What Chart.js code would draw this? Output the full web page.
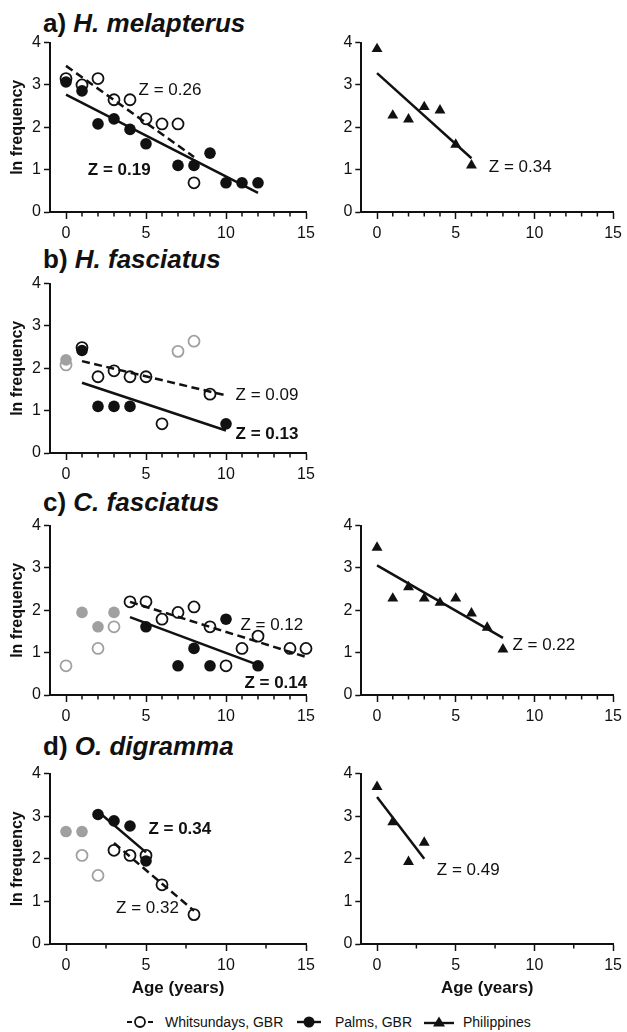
<!DOCTYPE html>
<html>
<head>
<meta charset="utf-8">
<script src="https://cdn.jsdelivr.net/npm/chart.js@4.4.1/dist/chart.umd.min.js"></script>
<style>
  body { margin: 0; background: #fff; font-family: "Liberation Sans", Arial, sans-serif; }
  #page { position: relative; width: 627px; height: 1032px; overflow: hidden; }
  .box { position: absolute; }
  .ttl { position: absolute; left: 43px; font-size: 26px; font-weight: bold; line-height: 26px; white-space: nowrap; color: #111; }
  .leg { position: absolute; top: 1012px; font-size: 14px; line-height: 20px; color: #111; white-space: nowrap; }
  .legsym { position: absolute; top: 1015px; }
</style>
</head>
<body>
<div id="page">
  <div class="ttl" style="top:10px">a) <i>H. melapterus</i></div>
  <div class="ttl" style="top:246px">b) <i>H. fasciatus</i></div>
  <div class="ttl" style="top:489px">c) <i>C. fasciatus</i></div>
  <div class="ttl" style="top:733px">d) <i>O. digramma</i></div>

  <div class="box" id="wa"><canvas id="cA"></canvas></div>
  <div class="box" id="wa2"><canvas id="cA2"></canvas></div>
  <div class="box" id="wb"><canvas id="cB"></canvas></div>
  <div class="box" id="wc"><canvas id="cC"></canvas></div>
  <div class="box" id="wc2"><canvas id="cC2"></canvas></div>
  <div class="box" id="wd"><canvas id="cD"></canvas></div>
  <div class="box" id="wd2"><canvas id="cD2"></canvas></div>

  <svg class="legsym" style="left:126px" width="28" height="14">
    <line x1="1" y1="7" x2="6" y2="7" stroke="#111" stroke-width="2"/>
    <line x1="22" y1="7" x2="27" y2="7" stroke="#111" stroke-width="2"/>
    <circle cx="14" cy="7" r="5" fill="#fff" stroke="#111" stroke-width="1.8"/>
  </svg>
  <div class="leg" style="left:165px">Whitsundays, GBR</div>
  <svg class="legsym" style="left:297px" width="24" height="14">
    <line x1="0" y1="7" x2="24" y2="7" stroke="#111" stroke-width="2.4"/>
    <circle cx="12" cy="7" r="5.5" fill="#111"/>
  </svg>
  <div class="leg" style="left:335px">Palms, GBR</div>
  <svg class="legsym" style="left:424px" width="30" height="14">
    <line x1="0" y1="8" x2="30" y2="8" stroke="#111" stroke-width="2.4"/>
    <polygon points="15,1.5 21,11.5 9,11.5" fill="#111"/>
  </svg>
  <div class="leg" style="left:463px">Philippines</div>
</div>

<script>
// age classes (years)
const ages = [0, 1, 2, 3, 4, 5, 6, 7, 8, 9, 10, 11, 12, 13, 14, 15];

// a) H. melapterus
const aWhit  = [3.15, 3.00, 3.15, 2.65, 2.65, 2.20, 2.08, 2.08, 0.69, null, null, null, null, null, null, null];
const aPalms = [3.07, 2.86, 2.08, 2.20, 1.95, 1.61, null, 1.10, 1.10, 1.39, 0.69, 0.69, 0.69, null, null, null];
const aPhil  = [3.85, 2.28, 2.19, 2.48, 2.40, 1.59, 1.10, null, null, null, null, null, null, null, null, null];
const aWhitFit  = [[0, 3.45], [8, 1.30]];
const aPalmsFit = [[0, 2.77], [12, 0.45]];
const aPhilFit  = [[0, 3.28], [6, 1.27]];
const aZ = ['Z = 0.26', 'Z = 0.19', 'Z = 0.34'];

// b) H. fasciatus
const bWhit     = [null, 2.49, 1.80, 1.94, 1.80, 1.80, 0.69, null, null, 1.39, null, null, null, null, null, null];
const bWhitOut  = [2.08, null, null, null, null, null, null, 2.40, 2.64, null, null, null, null, null, null, null];
const bPalms    = [null, 2.42, 1.10, 1.10, 1.10, null, null, null, null, null, 0.69, null, null, null, null, null];
const bPalmsOut = [2.20, null, null, null, null, null, null, null, null, null, null, null, null, null, null, null];
const bWhitFit  = [[1, 2.17], [10, 1.36]];
const bPalmsFit = [[1, 1.66], [10, 0.53]];
const bZ = ['Z = 0.09', 'Z = 0.13'];

// c) C. fasciatus
const cWhit     = [null, null, null, null, 2.20, 2.20, 1.79, 1.95, 2.08, 1.61, 0.69, 1.10, 1.39, null, 1.10, 1.10];
const cWhitOut  = [0.69, null, 1.10, 1.61, null, null, null, null, null, null, null, null, null, null, null, null];
const cPalms    = [null, null, null, null, null, 1.61, null, 0.69, 1.10, 0.69, 1.79, null, 0.69, null, null, null];
const cPalmsOut = [null, 1.95, 1.61, 1.95, null, null, null, null, null, null, null, null, null, null, null, null];
const cPhil     = [3.48, 2.28, 2.55, 2.28, 2.18, 2.28, 1.93, 1.59, 1.08, null, null, null, null, null, null, null];
const cWhitFit  = [[4, 2.20], [15, 0.90]];
const cPalmsFit = [[4, 1.84], [12, 0.71]];
const cPhilFit  = [[0, 3.06], [8, 1.35]];
const cZ = ['Z = 0.12', 'Z = 0.14', 'Z = 0.22'];

// d) O. digramma
const dWhit     = [null, null, null, 2.20, 2.08, 2.08, 1.39, null, 0.69, null, null, null, null, null, null, null];
const dWhitOut  = [null, 2.08, 1.61, null, null, null, null, null, null, null, null, null, null, null, null, null];
const dPalms    = [null, null, 3.04, 2.89, 2.77, 1.95, null, null, null, null, null, null, null, null, null, null];
const dPalmsOut = [2.64, 2.64, null, null, null, null, null, null, null, null, null, null, null, null, null, null];
const dPhil     = [3.69, 2.86, 1.93, 2.38, null, null, null, null, null, null, null, null, null, null, null, null];
const dWhitFit  = [[3, 2.37], [8, 0.78]];
const dPalmsFit = [[2, 3.11], [5, 2.15]];
const dPhilFit  = [[0, 3.45], [3, 2.00]];
const dZ = ['Z = 0.34', 'Z = 0.32', 'Z = 0.49'];

const xTicks = [0, 5, 10, 15];
const yTicks = [0, 1, 2, 3, 4];

const BLACK = '#111111';
const GREY = '#a0a0a0';
const FONT = "'Liberation Sans', Arial, sans-serif";
Chart.defaults.font.family = FONT;
Chart.defaults.color = BLACK;

function pts(vals) {
  return ages.map((a, i) => ({ x: a, y: vals[i] })).filter(p => p.y !== null);
}
function fitPts(fit) {
  return fit.map(p => ({ x: p[0], y: p[1] }));
}

// dataset builders
function openPts(vals, col) {
  return { data: pts(vals), pointStyle: 'circle', pointRadius: 5.5, pointBackgroundColor: '#fff',
    pointBorderColor: col, pointBorderWidth: 1.8, showLine: false, clip: false };
}
function fillPts(vals, col) {
  return { data: pts(vals), pointStyle: 'circle', pointRadius: 5.8, pointBackgroundColor: col,
    pointBorderColor: col, pointBorderWidth: 0, showLine: false, clip: false };
}
function triPts(vals) {
  return { data: pts(vals), pointStyle: 'triangle', pointRadius: 6.3, pointBackgroundColor: BLACK,
    pointBorderColor: BLACK, pointBorderWidth: 0, showLine: false, clip: false };
}
function fitLine(fit, dashed) {
  return { data: fitPts(fit), showLine: true, borderColor: BLACK, borderWidth: 2.5,
    borderDash: dashed ? [8, 4.5] : [], pointRadius: 0, clip: false };
}

// text labels at data coordinates
const zPlugin = {
  id: 'zLabels',
  afterDatasetsDraw(chart, args, opts) {
    const { ctx } = chart;
    const x = chart.scales.x, y = chart.scales.y;
    (opts.items || []).forEach(it => {
      ctx.save();
      ctx.font = (it.bold ? 'bold ' : '') + '17px ' + FONT;
      ctx.fillStyle = BLACK;
      ctx.textAlign = it.align || 'left';
      ctx.textBaseline = 'middle';
      ctx.fillText(it.text, x.getPixelForValue(it.x), y.getPixelForValue(it.y));
      ctx.restore();
    });
  }
};

// short minor ticks on the x axis
const minorTicks = {
  id: 'minorTicks',
  afterDraw(chart, args, opts) {
    const { ctx } = chart;
    const x = chart.scales.x;
    ctx.save();
    ctx.strokeStyle = BLACK;
    ctx.lineWidth = 1.5;
    for (let v = opts.step; v < 15; v += opts.step) {
      if (v % 5 === 0) continue;
      const px = x.getPixelForValue(v);
      ctx.beginPath();
      ctx.moveTo(px, x.top);
      ctx.lineTo(px, x.top + 4.5);
      ctx.stroke();
    }
    ctx.restore();
  }
};

function makeChart(id, wrapId, p) {
  const left = p.side === 'left';
  const padTop = 12;
  const xh = p.xTitle ? 62 : 32;
  const w = left ? 320 : 307;
  const h = padTop + (p.bottom - p.top) + xh;
  const wrap = document.getElementById(wrapId);
  wrap.style.left = (left ? 0 : 320) + 'px';
  wrap.style.top = (p.top - padTop) + 'px';
  wrap.style.width = w + 'px';
  wrap.style.height = h + 'px';
  const cv = document.getElementById(id);
  cv.width = w;
  cv.height = h;

  return new Chart(cv, {
    type: 'scatter',
    data: { datasets: p.datasets },
    plugins: [zPlugin, minorTicks],
    options: {
      responsive: false,
      animation: false,
      events: [],
      layout: { padding: { top: padTop, left: 0, right: left ? 14 : 9.3, bottom: 0 } },
      plugins: {
        legend: { display: false },
        tooltip: { enabled: false },
        zLabels: { items: p.z },
        minorTicks: { step: p.minorStep }
      },
      scales: {
        x: {
          type: 'linear', min: -1, max: 15,
          afterBuildTicks: s => { s.ticks = xTicks.map(v => ({ value: v })); },
          afterFit: s => { s.height = xh; },
          border: { color: BLACK, width: 2 },
          grid: { drawOnChartArea: false, tickLength: 7, tickWidth: 1.5, tickColor: BLACK },
          ticks: { font: { size: 16 }, color: BLACK, padding: 5, maxRotation: 0, autoSkip: false },
          title: { display: !!p.xTitle, text: 'Age (years)', color: BLACK,
            font: { size: 17, weight: 'bold' }, padding: { top: 0, bottom: 7.5 } }
        },
        y: {
          type: 'linear', min: 0, max: 4,
          afterBuildTicks: s => { s.ticks = yTicks.map(v => ({ value: v })); },
          afterFit: s => { s.width = left ? 50 : 41.3; },
          border: { color: BLACK, width: 2 },
          grid: { drawOnChartArea: false, tickLength: 6, tickWidth: 1.5, tickColor: BLACK },
          ticks: { font: { size: 16 }, color: BLACK, padding: 3 },
          title: { display: left, text: 'ln frequency', color: BLACK,
            font: { size: 16, weight: 'bold' }, padding: { top: 8.4, bottom: 0 } }
        }
      }
    }
  });
}

makeChart('cA', 'wa', {
  side: 'left', top: 42, bottom: 212, minorStep: 1,
  datasets: [fitLine(aWhitFit, true), fitLine(aPalmsFit, false), fillPts(aPalms, BLACK), openPts(aWhit, BLACK)],
  z: [{ text: aZ[0], x: 6.5, y: 2.87, align: 'center' }, { text: aZ[1], x: 3.33, y: 0.98, align: 'center', bold: true }]
});
makeChart('cA2', 'wa2', {
  side: 'right', top: 42, bottom: 212, minorStep: 1,
  datasets: [fitLine(aPhilFit, false), triPts(aPhil)],
  z: [{ text: aZ[2], x: 7.1, y: 1.06 }]
});
makeChart('cB', 'wb', {
  side: 'left', top: 283, bottom: 453, minorStep: 1,
  datasets: [fitLine(bWhitFit, true), fitLine(bPalmsFit, false), fillPts(bPalms, BLACK), openPts(bWhit, BLACK),
    fillPts(bPalmsOut, GREY), openPts(bWhitOut, GREY)],
  z: [{ text: bZ[0], x: 10.6, y: 1.36 }, { text: bZ[1], x: 10.6, y: 0.45, bold: true }]
});
makeChart('cC', 'wc', {
  side: 'left', top: 525, bottom: 695, minorStep: 1,
  datasets: [fitLine(cWhitFit, true), fitLine(cPalmsFit, false), fillPts(cPalms, BLACK), openPts(cWhit, BLACK),
    fillPts(cPalmsOut, GREY), openPts(cWhitOut, GREY)],
  z: [{ text: cZ[0], x: 10.9, y: 1.65 }, { text: cZ[1], x: 11.15, y: 0.27, bold: true }]
});
makeChart('cC2', 'wc2', {
  side: 'right', top: 525, bottom: 695, minorStep: 1,
  datasets: [fitLine(cPhilFit, false), triPts(cPhil)],
  z: [{ text: cZ[2], x: 8.6, y: 1.18 }]
});
makeChart('cD', 'wd', {
  side: 'left', top: 773, bottom: 944, minorStep: 2.5, xTitle: true,
  datasets: [fitLine(dWhitFit, true), fitLine(dPalmsFit, false), fillPts(dPalms, BLACK), openPts(dWhit, BLACK),
    fillPts(dPalmsOut, GREY), openPts(dWhitOut, GREY)],
  z: [{ text: dZ[0], x: 5.15, y: 2.7, bold: true }, { text: dZ[1], x: 3.13, y: 0.83 }]
});
makeChart('cD2', 'wd2', {
  side: 'right', top: 773, bottom: 944, minorStep: 2.5, xTitle: true,
  datasets: [fitLine(dPhilFit, false), triPts(dPhil)],
  z: [{ text: dZ[2], x: 3.8, y: 1.74 }]
});
</script>
</body>
</html>
